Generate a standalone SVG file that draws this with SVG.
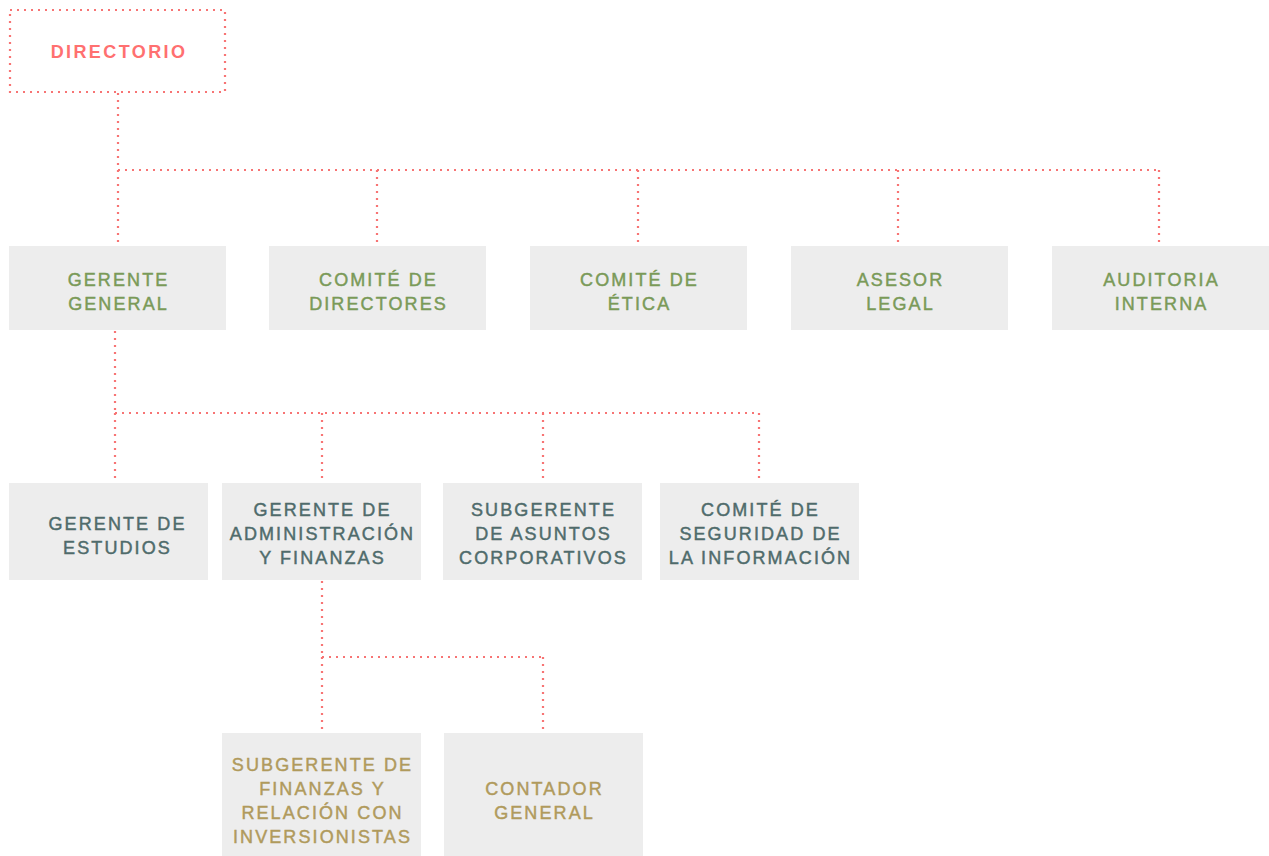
<svg xmlns="http://www.w3.org/2000/svg" width="1269" height="856" viewBox="0 0 1269 856">
<style>
.dot{fill:none;stroke:#f77474;stroke-width:2.2;stroke-dasharray:2 5}
.box{fill:#ededed}
.t{font-family:"Liberation Sans",Arial,sans-serif;font-size:18px;letter-spacing:2.1px;text-anchor:middle;stroke-width:0.45px}
.g{fill:#7a9a58;stroke:#7a9a58}
.s{fill:#4f6b6b;stroke:#4f6b6b}
.y{fill:#b09a5c;stroke:#b09a5c}
.r{fill:#ff7070;font-weight:bold;letter-spacing:2.4px}
</style>
<rect width="1269" height="856" fill="#fff"/>
<g id="connectors">
<path class="dot" d="M118 93V170M118 170H1159M118 170V246M377 170V246M638 170V246M898 170V246M1159 170V246"/>
<path class="dot" d="M115 331V413M115 413H759M115 413V483M322 413V483M543 413V483M759 413V483"/>
<path class="dot" d="M322 581V657M322 657H543M322 657V733M543 657V733"/>
</g>
<g id="directorio">
<rect class="dot" x="10" y="10" width="215" height="82"/>
<text class="t r" x="119" y="58">DIRECTORIO</text>
</g>
<g id="gerente-general">
<rect class="box" x="9" y="246" width="217" height="84"/>
<text class="t g" x="118.5" y="286">GERENTE</text>
<text class="t g" x="118.5" y="310">GENERAL</text>
</g>
<g id="comite-directores">
<rect class="box" x="269" y="246" width="217" height="84"/>
<text class="t g" x="378.5" y="286">COMITÉ DE</text>
<text class="t g" x="378.5" y="310">DIRECTORES</text>
</g>
<g id="comite-etica">
<rect class="box" x="530" y="246" width="217" height="84"/>
<text class="t g" x="639.5" y="286">COMITÉ DE</text>
<text class="t g" x="639.5" y="310">ÉTICA</text>
</g>
<g id="asesor-legal">
<rect class="box" x="791" y="246" width="217" height="84"/>
<text class="t g" x="900.5" y="286">ASESOR</text>
<text class="t g" x="900.5" y="310">LEGAL</text>
</g>
<g id="auditoria-interna">
<rect class="box" x="1052" y="246" width="217" height="84"/>
<text class="t g" x="1161.5" y="286">AUDITORIA</text>
<text class="t g" x="1161.5" y="310">INTERNA</text>
</g>
<g id="gerente-estudios">
<rect class="box" x="9" y="483" width="199" height="97"/>
<text class="t s" x="117.5" y="530">GERENTE DE</text>
<text class="t s" x="117.5" y="554">ESTUDIOS</text>
</g>
<g id="gerente-administracion">
<rect class="box" x="222" y="483" width="199" height="97"/>
<text class="t s" x="322.5" y="516">GERENTE DE</text>
<text class="t s" x="322.5" y="540">ADMINISTRACIÓN</text>
<text class="t s" x="322.5" y="564">Y FINANZAS</text>
</g>
<g id="subgerente-asuntos">
<rect class="box" x="443" y="483" width="199" height="97"/>
<text class="t s" x="543.5" y="516">SUBGERENTE</text>
<text class="t s" x="543.5" y="540">DE ASUNTOS</text>
<text class="t s" x="543.5" y="564">CORPORATIVOS</text>
</g>
<g id="comite-seguridad">
<rect class="box" x="660" y="483" width="199" height="97"/>
<text class="t s" x="760.5" y="516">COMITÉ DE</text>
<text class="t s" x="760.5" y="540">SEGURIDAD DE</text>
<text class="t s" x="760.5" y="564">LA INFORMACIÓN</text>
</g>
<g id="subgerente-finanzas">
<rect class="box" x="222" y="733" width="199" height="123"/>
<text class="t y" x="322.5" y="771">SUBGERENTE DE</text>
<text class="t y" x="322.5" y="795">FINANZAS Y</text>
<text class="t y" x="322.5" y="819">RELACIÓN CON</text>
<text class="t y" x="322.5" y="843">INVERSIONISTAS</text>
</g>
<g id="contador-general">
<rect class="box" x="444" y="733" width="199" height="123"/>
<text class="t y" x="544.5" y="795">CONTADOR</text>
<text class="t y" x="544.5" y="819">GENERAL</text>
</g>
</svg>
